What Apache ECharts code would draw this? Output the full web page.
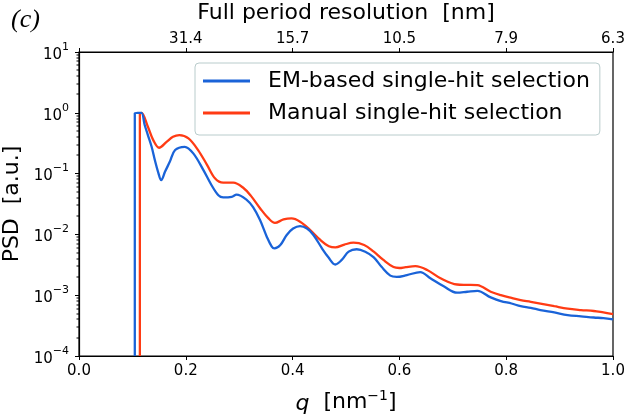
<!DOCTYPE html>
<html>
<head>
<meta charset="utf-8">
<script src="https://cdn.jsdelivr.net/npm/echarts@6/dist/echarts.min.js"></script>
<style>
  html, body { margin: 0; padding: 0; background: #fff; }
  #chart { width: 630px; height: 417px; }
</style>
</head>
<body>
<div id="chart"></div>
<script>
// q in nm^-1, PSD in a.u.
const emQ = [0.1045, 0.1045, 0.110, 0.117, 0.123, 0.129, 0.136, 0.142, 0.148, 0.154, 0.161, 0.170, 0.180, 0.198, 0.214, 0.233, 0.248, 0.261, 0.270, 0.286, 0.295, 0.314, 0.326, 0.339, 0.352, 0.361, 0.366, 0.377, 0.389, 0.401, 0.414, 0.427, 0.439, 0.455, 0.467, 0.480, 0.492, 0.505, 0.520, 0.536, 0.552, 0.567, 0.583, 0.595, 0.614, 0.639, 0.658, 0.683, 0.708, 0.727, 0.746, 0.771, 0.790, 0.810, 0.827, 0.846, 0.864, 0.890, 0.915, 0.940, 0.964, 0.982, 1.0];
const emPsd = [1e-4, 0.98, 1.0, 1.0, 0.63, 0.43, 0.276, 0.167, 0.107, 0.078, 0.107, 0.156, 0.244, 0.276, 0.215, 0.114, 0.065, 0.044, 0.0405, 0.0415, 0.045, 0.037, 0.028, 0.0172, 0.0090, 0.0063, 0.0059, 0.0067, 0.0098, 0.0125, 0.0137, 0.0125, 0.0098, 0.0059, 0.0042, 0.0032, 0.0038, 0.0052, 0.0057, 0.0052, 0.0042, 0.0029, 0.0021, 0.0020, 0.00214, 0.0024, 0.0019, 0.0014, 0.0011, 0.00114, 0.00118, 0.00092, 0.00080, 0.00073, 0.00066, 0.00062, 0.00057, 0.00052, 0.00047, 0.00045, 0.00043, 0.00042, 0.00040];

const manQ = [0.114, 0.114, 0.117, 0.129, 0.139, 0.150, 0.164, 0.176, 0.188, 0.205, 0.223, 0.240, 0.255, 0.270, 0.289, 0.308, 0.322, 0.339, 0.355, 0.367, 0.383, 0.398, 0.414, 0.433, 0.452, 0.468, 0.480, 0.497, 0.514, 0.534, 0.552, 0.570, 0.589, 0.600, 0.612, 0.630, 0.652, 0.677, 0.708, 0.727, 0.746, 0.771, 0.790, 0.810, 0.827, 0.846, 0.864, 0.890, 0.915, 0.940, 0.964, 0.982, 1.0];
const manPsd = [1e-4, 0.97, 1.0, 0.59, 0.355, 0.266, 0.333, 0.403, 0.43, 0.38, 0.244, 0.138, 0.083, 0.071, 0.071, 0.058, 0.043, 0.027, 0.0183, 0.0155, 0.0176, 0.0183, 0.0162, 0.0118, 0.0081, 0.0064, 0.0061, 0.0068, 0.0073, 0.0067, 0.0052, 0.0038, 0.0029, 0.0028, 0.0029, 0.0030, 0.0026, 0.0019, 0.0015, 0.00148, 0.00146, 0.00114, 0.00100, 0.00090, 0.00083, 0.00078, 0.00073, 0.00066, 0.00060, 0.00057, 0.00055, 0.00052, 0.00049];

const seriesNames = ['EM-based single-hit selection', 'Manual single-hit selection'];
const topTicks = [0.2, 0.4, 0.6, 0.8, 1.0];
const topTickLabels = ['31.4', '15.7', '10.5', '7.9', '6.3'];
// minor ticks of the log axis: 2..9 x 10^e
const minorTickValues = [];
for (let e = -4; e < 1; e++) {
  for (let k = 2; k <= 9; k++) minorTickValues.push(k * Math.pow(10, e));
}

const FONT = 'DejaVu Sans';
const chart = echarts.init(document.getElementById('chart'), null, { renderer: 'canvas' });

function pairs(xs, ys) {
  return xs.map((x, i) => [x, ys[i]]);
}

chart.setOption({
  animation: false,
  backgroundColor: '#fff',
  title: {
    text: '(c)',
    left: 6,
    top: 2,
    textStyle: { fontFamily: 'Liberation Serif', fontStyle: 'italic', fontWeight: 'normal', fontSize: 26, color: '#000' }
  },
  grid: {
    left: 79, right: 17, top: 52, bottom: 61,
    outerBoundsMode: 'none',
    containLabel: false,
    show: true, borderColor: '#000', borderWidth: 1.2, backgroundColor: 'transparent'
  },
  legend: {
    orient: 'vertical',
    left: 195,
    top: 63,
    padding: [5, 10, 9, 8],
    itemGap: 6,
    itemWidth: 47,
    itemHeight: 3,
    icon: 'rect',
    borderColor: '#b9cccc',
    borderWidth: 1,
    borderRadius: 4,
    backgroundColor: 'rgba(255,255,255,0.8)',
    data: seriesNames,
    textStyle: { fontFamily: FONT, fontSize: 22, color: '#000', lineHeight: 26, padding: [0, 0, 0, 13] }
  },
  xAxis: [
    {
      type: 'value', position: 'bottom', min: 0, max: 1, interval: 0.2,
      name: '{i|q}  [nm{s|−1}]',
      nameLocation: 'middle', nameGap: 33,
      nameTextStyle: {
        fontFamily: FONT, fontSize: 22, color: '#000',
        rich: {
          i: { fontFamily: FONT, fontStyle: 'italic', fontSize: 22, color: '#000', lineHeight: 26, verticalAlign: 'bottom' },
          s: { fontFamily: FONT, fontSize: 14, color: '#000', lineHeight: 14, verticalAlign: 'top' }
        }
      },
      axisLine: { show: true, onZero: false, lineStyle: { color: '#000', width: 1.2 } },
      axisTick: { show: true, inside: false, length: 4, lineStyle: { color: '#000', width: 1 } },
      axisLabel: { fontFamily: FONT, fontSize: 15, color: '#000', margin: 8, formatter: v => v.toFixed(1) },
      splitLine: { show: false }
    },
    {
      type: 'value', position: 'top', min: 0, max: 1, interval: 0.2,
      name: 'Full period resolution  [nm]',
      nameLocation: 'middle', nameGap: 28,
      nameTextStyle: { fontFamily: FONT, fontSize: 22, color: '#000', lineHeight: 22 },
      axisLine: { show: true, onZero: false, lineStyle: { color: '#000', width: 1.2 } },
      axisTick: { show: true, inside: false, length: 4, lineStyle: { color: '#000', width: 1 } },
      axisLabel: {
        fontFamily: FONT, fontSize: 15, color: '#000', margin: 5,
        formatter: v => topTickLabels[topTicks.findIndex(t => Math.abs(t - v) < 1e-6)] || ''
      },
      splitLine: { show: false }
    }
  ],
  yAxis: {
    type: 'log', logBase: 10, min: 1e-4, max: 10, position: 'left',
    name: 'PSD  [a.u.]',
    nameLocation: 'middle', nameGap: 54, nameRotate: 90,
    nameTextStyle: { fontFamily: FONT, fontSize: 22, color: '#000' },
    axisLine: { show: true, onZero: false, lineStyle: { color: '#000', width: 1.2 } },
    axisTick: { show: true, inside: false, length: 4, lineStyle: { color: '#000', width: 1 } },
    axisLabel: {
      margin: 10,
      formatter: v => {
        const e = Math.round(Math.log10(v));
        return '{b|10}{s|' + (e < 0 ? '−' + (-e) : e) + '}';
      },
      rich: {
        b: { fontFamily: FONT, fontSize: 15, color: '#000', lineHeight: 21, verticalAlign: 'bottom' },
        s: { fontFamily: FONT, fontSize: 11, color: '#000', lineHeight: 12, verticalAlign: 'top' }
      }
    },
    splitLine: { show: false }
  },
  series: [
    {
      name: seriesNames[0], type: 'line',
      data: pairs(emQ, emPsd),
      showSymbol: false, smooth: 0.35, clip: true,
      lineStyle: { color: '#1a63d8', width: 2.3 },
      itemStyle: { color: '#1a63d8' },
      z: 3
    },
    {
      name: seriesNames[1], type: 'line',
      data: pairs(manQ, manPsd),
      showSymbol: false, smooth: 0.35, clip: true,
      lineStyle: { color: '#ff3b14', width: 2.3 },
      itemStyle: { color: '#ff3b14' },
      z: 2
    },
    {
      // minor log ticks: short dashes just left of the y axis
      name: 'minor ticks', type: 'custom',
      coordinateSystem: 'cartesian2d',
      encode: { x: 0, y: 1 },
      data: minorTickValues.map(v => [0, v]),
      clip: false, silent: true, z: 10,
      renderItem: (params, api) => {
        const p = api.coord([api.value(0), api.value(1)]);
        return {
          type: 'rect',
          shape: { x: p[0] - 2.5, y: Math.round(p[1]) - 0.5, width: 2.5, height: 1 },
          style: { fill: '#000' }
        };
      }
    }
  ]
});
</script>
</body>
</html>
